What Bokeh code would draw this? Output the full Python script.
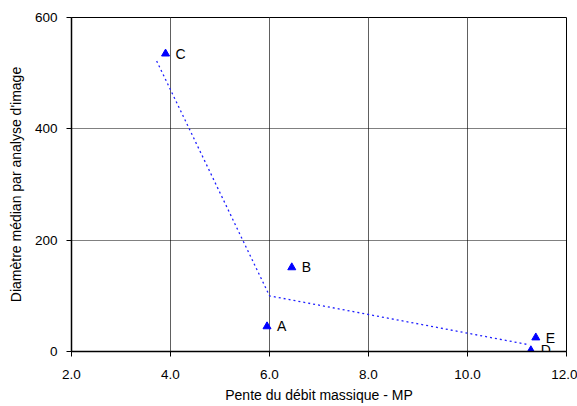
from bokeh.plotting import figure
from bokeh.models import ColumnDataSource, FixedTicker, NumeralTickFormatter, Range1d, LabelSet
from bokeh.core.properties import value
from bokeh.embed import file_html
from bokeh.resources import INLINE

# Measured samples
labels = ["A", "B", "C", "D", "E"]
pente = [5.95, 6.45, 3.9, 11.28, 11.38]
diametre = [45, 151, 535, 2, 25]

# Trend line drawn through the samples
trend_x = [3.72, 6.0, 11.25]
trend_y = [522, 100, 12]

x_ticks = [2, 4, 6, 8, 10, 12]
y_ticks = [0, 200, 400, 600]

FONT = "Liberation Sans"

p = figure(width=577, height=406, output_backend="svg", toolbar_location=None,
           x_range=Range1d(2, 12), y_range=Range1d(0, 600),
           min_border_left=71, min_border_right=11, min_border_top=17, min_border_bottom=55)

p.outline_line_color = "black"
p.outline_line_width = 1

p.line(trend_x, trend_y, line_color="#2020ff", line_width=1.3, line_dash="2 3")

src = ColumnDataSource(dict(x=pente, y=diametre, label=labels))
p.scatter("x", "y", source=src, marker="triangle", size=8,
          fill_color="#0000ff", line_color="#0000ff")
p.add_layout(LabelSet(x="x", y="y", text="label", source=src, x_offset=10, y_offset=0,
                      text_font=value(FONT), text_font_size=value("14px"),
                      text_baseline="middle", text_color="black"))

# Grid: solid grey verticals, dotted horizontals
p.xgrid.ticker = FixedTicker(ticks=x_ticks)
p.ygrid.ticker = FixedTicker(ticks=y_ticks)
p.xgrid.grid_line_color = "#606060"
p.xgrid.grid_line_width = 1
p.ygrid.grid_line_color = "black"
p.ygrid.grid_line_dash = "1 1"
p.ygrid.grid_line_width = 1

for ax in (p.xaxis[0], p.yaxis[0]):
    ax.axis_line_color = "black"
    ax.axis_line_width = 1.5
    ax.major_tick_line_color = "black"
    ax.major_tick_out = 5
    ax.major_tick_in = 0
    ax.minor_tick_line_color = None
    ax.major_label_text_font = FONT
    ax.major_label_text_font_size = "13.5px"
    ax.major_label_text_color = "black"
    ax.axis_label_text_font = FONT
    ax.axis_label_text_font_size = "14px"
    ax.axis_label_text_font_style = "normal"
    ax.axis_label_text_color = "black"

p.xaxis[0].ticker = FixedTicker(ticks=x_ticks)
p.xaxis[0].formatter = NumeralTickFormatter(format="0.0")
p.xaxis[0].axis_label = "Pente du débit massique - MP"
p.xaxis[0].major_label_standoff = 13
p.xaxis[0].axis_label_standoff = 5

p.yaxis[0].ticker = FixedTicker(ticks=y_ticks)
p.yaxis[0].axis_label = "Diamètre médian par analyse d'image"
p.yaxis[0].major_label_standoff = 9
p.yaxis[0].axis_label_standoff = 8

open("out.html", "w").write(file_html(p, INLINE))
